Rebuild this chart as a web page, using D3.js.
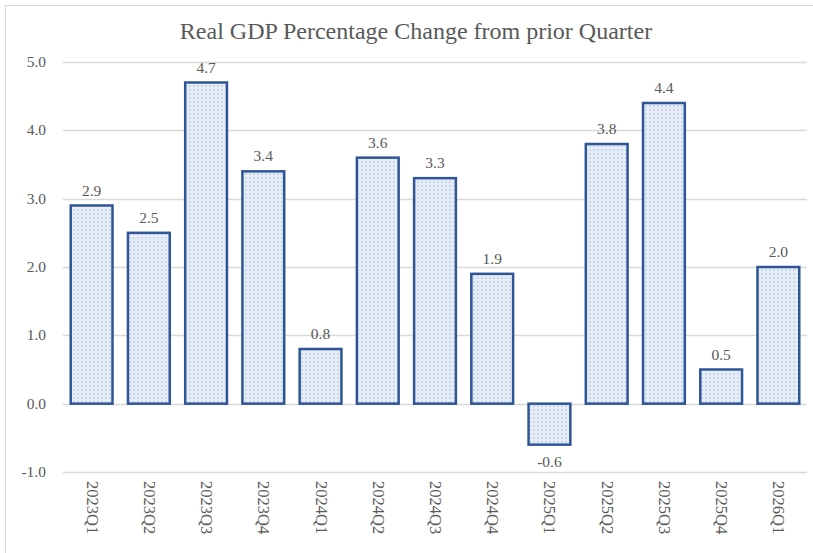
<!DOCTYPE html>
<html>
<head>
<meta charset="utf-8">
<script src="https://cdn.jsdelivr.net/npm/d3@7"></script>
<style>
  body { margin: 0; background: #fff; }
  text { font-family: "Liberation Serif", "DejaVu Serif", serif; fill: #595959; }
</style>
</head>
<body>
<div id="chart"></div>
<script>
const quarters = ['2023Q1', '2023Q2', '2023Q3', '2023Q4', '2024Q1', '2024Q2', '2024Q3',
  '2024Q4', '2025Q1', '2025Q2', '2025Q3', '2025Q4', '2026Q1']
const gdpChange = [2.9, 2.5, 4.7, 3.4, 0.8, 3.6, 3.3, 1.9, -0.6, 3.8, 4.4, 0.5, 2.0]
const yTicks = [-1, 0, 1, 2, 3, 4, 5]
const chartTitle = 'Real GDP Percentage Change from prior Quarter'

const WIDTH = 813
const HEIGHT = 553
const margin = { top: 62, right: 6, bottom: 81, left: 63 }

// hyphen minus like the original, not the unicode one
const fmt = d => d3.format('.1f')(d).replace('\u2212', '-')

const svg = d3.select('#chart').append('svg')
  .attr('width', WIDTH)
  .attr('height', HEIGHT)

// dotted fill like the office chart pattern
const defs = svg.append('defs')
const pat = defs.append('pattern')
  .attr('id', 'dots')
  .attr('width', 4)
  .attr('height', 4)
  .attr('patternUnits', 'userSpaceOnUse')
pat.append('rect').attr('width', 4).attr('height', 4).attr('fill', '#e6edf7')
pat.append('rect').attr('x', 1).attr('y', 1).attr('width', 2).attr('height', 2).attr('fill', '#cad8ec')

// frame
svg.append('path')
  .attr('d', `M5.5,${HEIGHT} V5.5 H${WIDTH}`)
  .attr('fill', 'none')
  .attr('stroke', '#d9d9d9')

svg.append('text')
  .attr('x', 416)
  .attr('y', 39)
  .attr('text-anchor', 'middle')
  .style('font-size', '24px')
  .text(chartTitle)

const x = d3.scaleBand()
  .domain(quarters)
  .range([margin.left, WIDTH - margin.right])
  .paddingInner(0.27)
  .paddingOuter(0.135)

const y = d3.scaleLinear()
  .domain([-1, 5])
  .range([HEIGHT - margin.bottom, margin.top])

const g = svg.append('g')

// grid lines
g.selectAll('.grid')
  .data(yTicks)
  .enter()
  .append('line')
  .attr('x1', margin.left)
  .attr('x2', WIDTH - margin.right)
  .attr('y1', d => Math.round(y(d)) + 0.5)
  .attr('y2', d => Math.round(y(d)) + 0.5)
  .attr('stroke', '#d9d9d9')
  .attr('stroke-width', 1.3)

// y labels
g.selectAll('.ylab')
  .data(yTicks)
  .enter()
  .append('text')
  .attr('x', 46)
  .attr('y', d => y(d) + 5)
  .attr('text-anchor', 'end')
  .style('font-size', '15.5px')
  .text(fmt)

// bars
g.selectAll('.bar')
  .data(gdpChange)
  .enter()
  .append('rect')
  .attr('x', (d, i) => x(quarters[i]))
  .attr('width', x.bandwidth())
  .attr('y', d => y(Math.max(0, d)))
  .attr('height', d => Math.abs(y(d) - y(0)))
  .attr('fill', 'url(#dots)')
  .attr('stroke', '#2f5597')
  .attr('stroke-width', 2.5)

// value labels
g.selectAll('.val')
  .data(gdpChange)
  .enter()
  .append('text')
  .attr('x', (d, i) => x(quarters[i]) + x.bandwidth() / 2)
  .attr('y', d => d >= 0 ? y(d) - 10 : y(d) + 22)
  .attr('text-anchor', 'middle')
  .style('font-size', '15.5px')
  .text(fmt)

// rotated category labels
g.selectAll('.xlab')
  .data(quarters)
  .enter()
  .append('text')
  .attr('transform', d => `translate(${x(d) + x.bandwidth() / 2 - 5},${HEIGHT - margin.bottom + 9}) rotate(90)`)
  .attr('text-anchor', 'start')
  .style('font-size', '16.5px')
  .text(d => d)
</script>
</body>
</html>
